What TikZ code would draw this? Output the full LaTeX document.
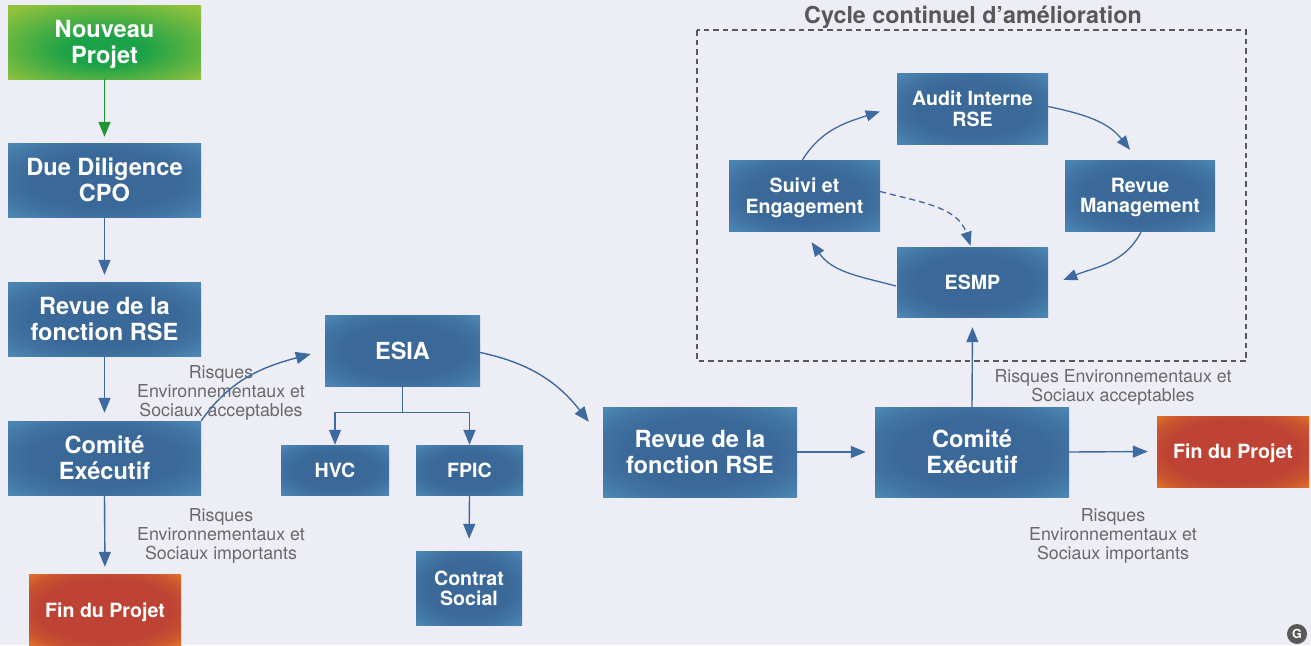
\documentclass[tikz,border=0pt]{standalone}
\usepackage{fontspec}
\setmainfont{TeX Gyre Heros}
\usetikzlibrary{arrows.meta,calc}
\definecolor{bg}{RGB}{237,237,246}
\definecolor{boxblue}{RGB}{58,104,152}
\definecolor{boxblueM}{RGB}{64,114,162}
\definecolor{boxblueL}{RGB}{78,138,182}
\definecolor{boxgreen}{RGB}{28,162,72}
\definecolor{boxgreenM}{RGB}{80,176,66}
\definecolor{boxgreenL}{RGB}{145,194,62}
\definecolor{boxred}{RGB}{190,67,52}
\definecolor{boxredM}{RGB}{200,84,48}
\definecolor{boxredL}{RGB}{232,122,36}
\definecolor{arrblue}{RGB}{61,106,160}
\definecolor{arrgreen}{RGB}{30,148,50}
\definecolor{labgray}{RGB}{105,105,105}
\definecolor{titlegray}{RGB}{88,88,88}
\pgfdeclareradialshading{blueshade}{\pgfpoint{0bp}{0bp}}{color(0bp)=(boxblue); color(18bp)=(boxblue); color(26bp)=(boxblueM); color(36bp)=(boxblueL); color(50bp)=(boxblueL)}
\pgfdeclareradialshading{greenshade}{\pgfpoint{0bp}{-7bp}}{color(0bp)=(boxgreen); color(10bp)=(boxgreen); color(21bp)=(boxgreenM); color(34bp)=(boxgreenL); color(50bp)=(boxgreenL)}
\pgfdeclareradialshading{redshade}{\pgfpoint{0bp}{0bp}}{color(0bp)=(boxred); color(22bp)=(boxred); color(29bp)=(boxredM); color(37bp)=(boxredL); color(50bp)=(boxredL)}
\tikzset{
  box/.style={shade, shading=blueshade, draw=none, text=white, align=center, inner sep=0pt, text depth=0pt},
  greenbox/.style={box, shading=greenshade},
  redbox/.style={box, shading=redshade},
  big/.style={font=\bfseries\fontsize{23.6}{26}\selectfont},
  small/.style={font=\bfseries\fontsize{19.6}{20.5}\selectfont},
  lab/.style={text=labgray, font=\fontsize{17.8}{18.6}\selectfont, align=center, inner sep=0pt},
  arr/.style={draw=arrblue, line width=1.4pt, -{Triangle[length=15pt,width=12pt]}},
  carr/.style={draw=arrblue, line width=1.3pt, -{Triangle[length=14pt,width=11pt]}},
  garr/.style={draw=arrgreen, line width=1.4pt, -{Triangle[length=15pt,width=12pt]}}
}
\begin{document}
\begin{tikzpicture}[x=1pt,y=-1pt]
\useasboundingbox (0,0) rectangle (1311,645);
\fill[bg] (0,0) rectangle (1311,645);

% left column
\node[greenbox, big, minimum width=193pt, minimum height=74pt] (np) at (104.5,42) {Nouveau\\Projet};
\node[box, big, minimum width=193pt, minimum height=74pt] (dd) at (104.5,180) {Due Diligence\\CPO};
\node[box, big, minimum width=193pt, minimum height=74pt] (rv1) at (104.5,319) {Revue de la\\fonction RSE};
\node[box, big, minimum width=193pt, minimum height=74pt] (ce1) at (104.5,458) {Comité\\Exécutif};
\node[redbox, small, minimum width=152pt, minimum height=72pt] (fin1) at (105,610) {Fin du Projet};

% ESIA group
\node[box, font=\bfseries\fontsize{23.5}{26}\selectfont, minimum width=155pt, minimum height=71pt] (esia) at (402.5,350.5) {ESIA};
\node[box, small, minimum width=108pt, minimum height=50pt] (hvc) at (335,470) {HVC};
\node[box, small, minimum width=107pt, minimum height=50pt] (fpic) at (469.5,470) {FPIC};
\node[box, small, minimum width=106pt, minimum height=74pt] (cs) at (469,588) {Contrat\\Social};

% right row
\node[box, big, minimum width=194pt, minimum height=90pt] (rv2) at (700,452) {Revue de la\\fonction RSE};
\node[box, big, minimum width=194pt, minimum height=90pt] (ce2) at (972,452) {Comité\\Exécutif};
\node[redbox, small, minimum width=152pt, minimum height=71pt] (fin2) at (1233,451.5) {Fin du Projet};

% cycle
\draw[titlegray, line width=1.1pt, dash pattern=on 5.5pt off 4pt] (697,30) rectangle (1246,361);
\node[text=titlegray, font=\bfseries\fontsize{23.3}{24}\selectfont, inner sep=0pt, text depth=0pt] (title) at (973,15) {Cycle continuel d’amélioration};
\node[box, small, minimum width=151pt, minimum height=71pt] (audit) at (972.5,108.5) {Audit Interne\\RSE};
\node[box, small, minimum width=151pt, minimum height=71pt] (suivi) at (804.5,195.5) {Suivi et\\Engagement};
\node[box, small, minimum width=150pt, minimum height=71pt] (revue) at (1140,195.5) {Revue\\Management};
\node[box, small, minimum width=151pt, minimum height=70pt] (esmp) at (972.5,282) {ESMP};

% labels
\node[lab] (l1) at (221,393) {Risques\\Environnementaux et\\Sociaux acceptables};
\node[lab] (l2) at (221,536) {Risques\\Environnementaux et\\Sociaux importants};
\node[lab] (l3) at (1113,387.5) {Risques Environnementaux et\\Sociaux acceptables};
\node[lab] (l4) at (1113,536) {Risques\\Environnementaux et\\Sociaux importants};

% arrows left column
\draw[garr, shorten >=6pt] (np.south) -- (dd.north);
\draw[arr, shorten >=7pt] (dd.south) -- (rv1.north);
\draw[arr, shorten >=8pt] (rv1.south) -- (ce1.north);
\draw[arr, shorten >=7pt] (ce1.south) -- (fin1.north);
\draw[arr] (ce1.north east) to[out=55,in=195] ($(esia.west)+(-14,3.5)$);

% ESIA tree
\draw[arr] (esia.south) -- ++(0,26) -| (hvc.north);
\draw[arr] (esia.south) -- ++(0,26) -| (fpic.north);
\draw[arr, shorten >=12pt] (fpic.south) -- (cs.north);
\draw[arr] ($(esia.east)+(0,2)$) to[out=-12,in=128] ($(rv2.north west)+(-14,15)$);

% right row arrows
\draw[arr, shorten >=9pt] (rv2.east) -- (ce2.west);
\draw[arr, shorten >=9pt] (ce2.east) -- (fin2.west);
\draw[arr, shorten >=10pt] (ce2.north) -- (esmp.south);

% cycle arrows
\draw[carr] ($(suivi.north)+(-2,0)$) to[out=58,in=198] ($(audit.west)+(-17,3)$);
\draw[carr] ($(audit.east)+(0,-2)$) to[out=-12,in=128] ($(revue.north)+(-10,-10)$);
\draw[carr] ($(revue.south)+(1,1)$) to[out=-118,in=22] ($(esmp.east)+(15,-2)$);
\draw[carr] ($(esmp.west)+(-1,4)$) to[out=165,in=-55] ($(suivi.south)+(7,11)$);
\draw[carr, dash pattern=on 6pt off 4pt] ($(suivi.east)+(0,-4)$) to[out=-15,in=108] ($(esmp.north)+(-2,-1)$);

% corner badge
\node[circle, fill=labgray!85!black, text=white, font=\bfseries\fontsize{12.5}{12.5}\selectfont, minimum size=20pt, inner sep=0pt] (g) at (1297,634) {G};
\end{tikzpicture}
\end{document}
